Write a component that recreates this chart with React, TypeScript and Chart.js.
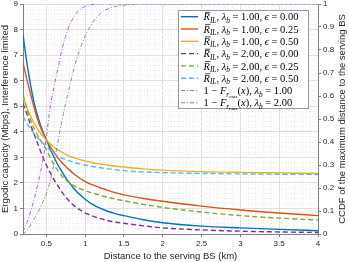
import React, { useEffect, useRef } from 'react';
import { Chart, registerables } from 'chart.js';

Chart.register(...registerables);

// ---------------- data ----------------
const distanceKm = [0.2, 0.25, 0.3, 0.35, 0.4, 0.45, 0.5, 0.55, 0.6, 0.65, 0.7, 0.75, 0.8, 0.85, 0.9, 1.0, 1.1, 1.2, 1.3, 1.4, 1.5, 1.75, 2.0, 2.5, 3.0, 3.5, 4.0];

const capL1E000 = [7.8, 6.7, 5.8, 5.05, 4.5, 4.05, 3.7, 3.32, 3.0, 2.7, 2.45, 2.2, 2.0, 1.8, 1.63, 1.36, 1.15, 1.0, 0.88, 0.79, 0.72, 0.56, 0.44, 0.31, 0.24, 0.18, 0.13];
const capL1E025 = [6.7, 6.05, 5.45, 4.88, 4.38, 4.0, 3.7, 3.42, 3.2, 2.98, 2.8, 2.64, 2.5, 2.37, 2.25, 2.05, 1.92, 1.8, 1.7, 1.61, 1.53, 1.39, 1.28, 1.09, 0.94, 0.82, 0.72];
const capL1E050 = [5.4, 4.95, 4.6, 4.3, 4.05, 3.85, 3.68, 3.52, 3.4, 3.29, 3.2, 3.12, 3.05, 2.99, 2.94, 2.86, 2.79, 2.74, 2.69, 2.65, 2.62, 2.55, 2.5, 2.44, 2.41, 2.39, 2.37];
const capL2E000 = [5.1, 4.7, 4.25, 3.85, 3.45, 3.05, 2.7, 2.4, 2.12, 1.88, 1.65, 1.45, 1.27, 1.13, 1.01, 0.83, 0.7, 0.6, 0.52, 0.46, 0.42, 0.32, 0.24, 0.16, 0.11, 0.08, 0.06];
const capL2E025 = [5.45, 4.9, 4.45, 4.08, 3.8, 3.55, 3.3, 3.0, 2.7, 2.48, 2.28, 2.12, 2.0, 1.9, 1.82, 1.7, 1.6, 1.51, 1.43, 1.36, 1.3, 1.16, 1.04, 0.86, 0.72, 0.62, 0.55];
const capL2E050 = [4.6, 4.33, 4.1, 3.9, 3.73, 3.58, 3.43, 3.28, 3.15, 3.05, 2.97, 2.91, 2.86, 2.81, 2.77, 2.7, 2.64, 2.59, 2.55, 2.51, 2.48, 2.43, 2.4, 2.37, 2.35, 2.34, 2.33];

const ccdfL1 = [0.0, 0.015, 0.04, 0.07, 0.1, 0.135, 0.175, 0.23, 0.31, 0.4, 0.49, 0.57, 0.64, 0.71, 0.77, 0.86, 0.92, 0.96, 0.98, 0.99, 0.995, 1, 1, 1, 1, 1, 1];
const ccdfL2 = [0.01, 0.05, 0.1, 0.16, 0.23, 0.31, 0.42, 0.55, 0.64, 0.72, 0.8, 0.86, 0.91, 0.94, 0.965, 0.99, 0.998, 1, 1, 1, 1, 1, 1, 1, 1, 1, 1];

const capacitySeries = [capL1E000, capL1E025, capL1E050, capL2E000, capL2E025, capL2E050];
const ccdfSeries = [ccdfL1, ccdfL2];

const legendLambda = ['1.00', '1.00', '1.00', '2.00', '2.00', '2.00', '1.00', '2.00'];
const legendEpsilon = ['0.00', '0.25', '0.50', '0.00', '0.25', '0.50'];

const seriesColors = ['#0072BD', '#D95319', '#EDB120', '#7E2F8E', '#77AC30', '#4DBEEE', '#8f8f8f', '#b45cf0'];

const xTickLabels = ['0.5', '1', '1.5', '2', '2.5', '3', '3.5', '4'];
const yTickLabels = ['0', '1', '2', '3', '4', '5', '6', '7', '8', '9'];
const y2TickLabels = ['0', '0.1', '0.2', '0.3', '0.4', '0.5', '0.6', '0.7', '0.8', '0.9', '1'];

const xTitle = 'Distance to the serving BS (km)';
const yTitle = 'Ergodic capacity (Mbps), Interference limited';
const y2Title = 'CCDF of the maximum distance to the serving BS';

// ---------------- style ----------------
const SANS = '"Liberation Sans", Arial, sans-serif';
const SERIF = '"Liberation Serif", "DejaVu Serif", serif';
const TEXT = '#262626';
const AXIS = '#808080';
const GRID_MAJOR = '#e0e0e0';
const GRID_MINOR = '#e9e9e9';

type Seg = { t: string; it?: boolean; sz?: number; dy?: number; bar?: boolean };

function drawSegs(ctx: CanvasRenderingContext2D, x: number, y: number, segs: Seg[]) {
  for (const s of segs) {
    const size = s.sz ?? 10.5;
    ctx.font = `${s.it ? 'italic ' : ''}${size}px ${SERIF}`;
    ctx.fillText(s.t, x, y + (s.dy ?? 0));
    const w = ctx.measureText(s.t).width;
    if (s.bar) {
      ctx.save();
      ctx.lineWidth = 0.7;
      ctx.setLineDash([]);
      ctx.strokeStyle = '#000';
      ctx.beginPath();
      ctx.moveTo(x + 1.5, y - size * 0.76);
      ctx.lineTo(x + w + 0.5, y - size * 0.76);
      ctx.stroke();
      ctx.restore();
    }
    x += w;
  }
}

const legendPlugin = {
  id: 'mathLegend',
  afterDraw(chart: any) {
    const ctx: CanvasRenderingContext2D = chart.ctx;
    const area = chart.chartArea;
    ctx.save();
    const bx = Math.round(area.right - 140) + 0.5;
    const by = Math.round(area.top + 6) + 0.5;
    const bw = 130;
    const bh = 98;
    ctx.fillStyle = '#ffffff';
    ctx.fillRect(bx, by, bw, bh);
    ctx.strokeStyle = '#999999';
    ctx.lineWidth = 1;
    ctx.setLineDash([]);
    ctx.strokeRect(bx, by, bw, bh);
    chart.data.datasets.forEach((ds: any, i: number) => {
      const cy = by + 6.2 + i * 12.3;
      ctx.strokeStyle = ds.borderColor;
      ctx.lineWidth = ds.borderWidth;
      ctx.setLineDash(ds.borderDash || []);
      ctx.beginPath();
      ctx.moveTo(bx + 2.5, cy);
      ctx.lineTo(bx + 19.5, cy);
      ctx.stroke();
      ctx.setLineDash([]);
      ctx.fillStyle = '#000';
      ctx.textBaseline = 'alphabetic';
      ctx.textAlign = 'left';
      const tx = bx + 25;
      const base = cy + 3.6;
      let segs: Seg[];
      if (i < 6) {
        segs = [
          { t: 'R', it: true, bar: true },
          { t: 'IL', it: true, sz: 7.3, dy: 2.4 },
          { t: ', ' },
          { t: 'λ', it: true },
          { t: 'b', it: true, sz: 7.3, dy: 2.4 },
          { t: ' = ' + legendLambda[i] + ', ' },
          { t: 'ϵ', it: true },
          { t: ' = ' + legendEpsilon[i] },
        ];
      } else {
        segs = [
          { t: '1 − ' },
          { t: 'F', it: true },
          { t: 'r', it: true, sz: 7.3, dy: 2.4 },
          { t: 'max', it: true, sz: 5, dy: 3.6 },
          { t: '(' },
          { t: 'x', it: true },
          { t: '), ' },
          { t: 'λ', it: true },
          { t: 'b', it: true, sz: 7.3, dy: 2.4 },
          { t: ' = ' + legendLambda[i] },
        ];
      }
      drawSegs(ctx, tx, base, segs);
    });
    ctx.restore();
  },
};

const rightTitlePlugin = {
  id: 'rightTitle',
  afterDraw(chart: any) {
    const ctx: CanvasRenderingContext2D = chart.ctx;
    const area = chart.chartArea;
    ctx.save();
    ctx.translate(area.right + 24.5, (area.top + area.bottom) / 2);
    ctx.rotate(-Math.PI / 2);
    ctx.font = `9.5px ${SANS}`;
    ctx.fillStyle = TEXT;
    ctx.textAlign = 'center';
    ctx.textBaseline = 'middle';
    ctx.fillText(y2Title, 0, 0);
    ctx.restore();
  },
};

function isMajorX(v: number) {
  return Math.round(v * 10) % 5 === 0;
}
function isMajorY(v: number) {
  return Math.abs(v - Math.round(v)) < 1e-6;
}

export default function App() {
  const ref = useRef<HTMLCanvasElement | null>(null);

  useEffect(() => {
    if (!ref.current) return;
    const datasets: any[] = [];
    capacitySeries.forEach((vals, i) => {
      datasets.push({
        data: distanceKm.map((x, j) => ({ x, y: vals[j] })),
        yAxisID: 'y',
        borderColor: seriesColors[i],
        backgroundColor: seriesColors[i],
        borderWidth: 1.4,
        borderDash: i >= 3 ? [5, 3] : [],
        pointRadius: 0,
        cubicInterpolationMode: 'monotone',
        fill: false,
        order: -i,
      });
    });
    ccdfSeries.forEach((vals, k) => {
      const i = 6 + k;
      datasets.push({
        data: distanceKm.map((x, j) => ({ x, y: vals[j] })),
        yAxisID: 'y2',
        borderColor: seriesColors[i],
        backgroundColor: seriesColors[i],
        borderWidth: 1,
        borderDash: [4, 2, 1, 2],
        pointRadius: 0,
        cubicInterpolationMode: 'monotone',
        fill: false,
        order: -i,
      });
    });

    const tickFont = { family: SANS, size: 8 };
    const titleFont = { family: SANS, size: 9.5 };

    const chart = new Chart(ref.current, {
      type: 'line',
      data: { datasets },
      plugins: [legendPlugin, rightTitlePlugin],
      options: {
        animation: false,
        responsive: false,
        devicePixelRatio: 1,
        layout: { padding: 0 },
        plugins: { legend: { display: false }, tooltip: { enabled: false }, title: { display: false } },
        elements: { line: { tension: 0 } },
        scales: {
          x: {
            type: 'linear',
            min: 0.2,
            max: 4,
            afterBuildTicks: (s: any) => {
              const t = [];
              for (let i = 2; i <= 40; i++) t.push({ value: i / 10 });
              s.ticks = t;
            },
            afterFit: (s: any) => {
              s.height = 28;
            },
            ticks: {
              autoSkip: false,
              maxRotation: 0,
              minRotation: 0,
              padding: 2,
              color: TEXT,
              font: tickFont,
              callback: (v: any) => {
                if (!isMajorX(v)) return '';
                const idx = Math.round(v * 2) - 1;
                return xTickLabels[idx] ?? '';
              },
            },
            grid: {
              color: (c: any) => (c.tick && isMajorX(c.tick.value) ? GRID_MAJOR : GRID_MINOR),
              lineWidth: 1,
              tickLength: 3,
              tickColor: (c: any) => (c.tick && isMajorX(c.tick.value) ? AXIS : 'rgba(0,0,0,0)'),
            },
            border: {
              display: true,
              color: AXIS,
              dash: (c: any) => (c.tick && !isMajorX(c.tick.value) ? [1, 2] : []),
            },
            title: { display: true, text: xTitle, color: TEXT, font: titleFont, padding: 0 },
          },
          y: {
            type: 'linear',
            position: 'left',
            min: 0,
            max: 9,
            afterBuildTicks: (s: any) => {
              const t = [];
              for (let i = 0; i <= 45; i++) t.push({ value: i / 5 });
              s.ticks = t;
            },
            afterFit: (s: any) => {
              s.width = 23;
              s.paddingTop = 4;
              s.paddingBottom = 0;
            },
            ticks: {
              autoSkip: false,
              padding: 2,
              color: TEXT,
              font: tickFont,
              callback: (v: any) => (isMajorY(v) ? yTickLabels[Math.round(v)] : ''),
            },
            grid: {
              color: (c: any) => (c.tick && isMajorY(c.tick.value) ? GRID_MAJOR : GRID_MINOR),
              lineWidth: 1,
              tickLength: 3,
              tickColor: (c: any) => (c.tick && isMajorY(c.tick.value) ? AXIS : 'rgba(0,0,0,0)'),
            },
            border: {
              display: true,
              color: AXIS,
              dash: (c: any) => (c.tick && !isMajorY(c.tick.value) ? [1, 2] : []),
            },
            title: { display: true, text: yTitle, color: TEXT, font: titleFont, padding: 0 },
          },
          y2: {
            type: 'linear',
            position: 'right',
            min: 0,
            max: 1,
            afterBuildTicks: (s: any) => {
              const t = [];
              for (let i = 0; i <= 10; i++) t.push({ value: i / 10 });
              s.ticks = t;
            },
            afterFit: (s: any) => {
              s.width = 31;
              s.paddingTop = 4;
              s.paddingBottom = 0;
            },
            ticks: {
              autoSkip: false,
              padding: 2,
              color: TEXT,
              font: tickFont,
              callback: (v: any) => y2TickLabels[Math.round(v * 10)] ?? '',
            },
            grid: {
              drawOnChartArea: false,
              tickLength: 3,
              tickColor: AXIS,
            },
            border: { display: true, color: AXIS },
          },
        },
      } as any,
    });
    return () => chart.destroy();
  }, []);

  return (
    <div style={{ position: 'absolute', left: 0, top: 0, width: 349, height: 262, background: '#fff' }}>
      <canvas ref={ref} width={349} height={262} style={{ display: 'block', width: 349, height: 262 }} />
    </div>
  );
}
